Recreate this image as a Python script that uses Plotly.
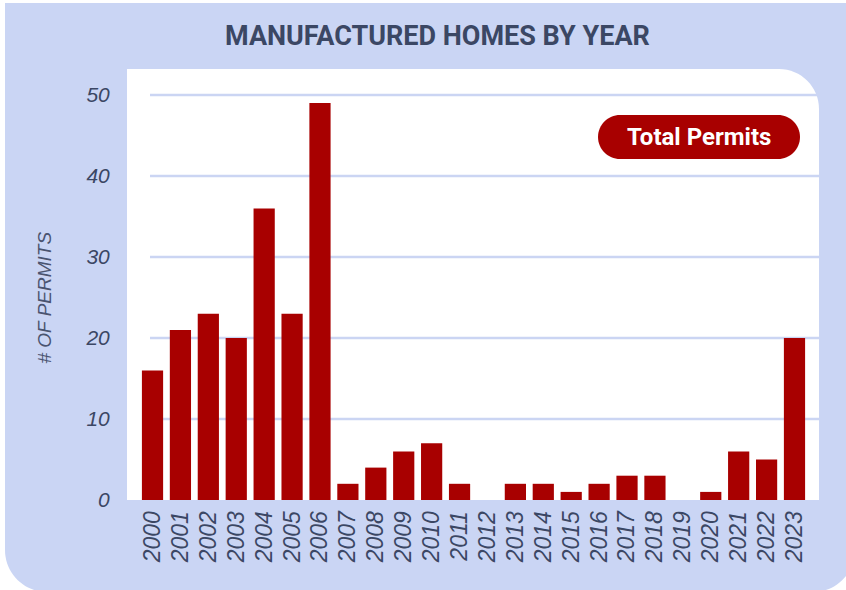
import plotly.graph_objects as go

# Manufactured home permits per year
years = [str(y) for y in range(2000, 2024)]
permits = [16, 21, 23, 20, 36, 23, 49, 2, 4, 6, 7, 2,
           0, 2, 2, 1, 2, 3, 3, 0, 1, 6, 5, 20]
y_ticks = [0, 10, 20, 30, 40, 50]

W, H = 846, 590
L, R, T, B = 127, 819, 69, 500          # plot area in pixels
PX_PER_UNIT = 8.1
BAR_RED = "#A80000"
CARD_BLUE = "#CAD5F4"
INK = "#3B4764"


def fx(px):
    return (px - L) / (R - L)


def fy(py):
    return (B - py) / (B - T)


def rounded_path(x0, y0, x1, y1, r_tl=0, r_tr=0, r_br=0, r_bl=0):
    """SVG path (paper coords) of a rectangle given in pixels with rounded corners."""
    k = 0.5523

    def p(x, y):
        return f"{fx(x):.5f},{fy(y):.5f}"

    d = f"M {p(x0 + r_tl, y0)} L {p(x1 - r_tr, y0)} "
    if r_tr:
        d += f"C {p(x1 - r_tr + k * r_tr, y0)} {p(x1, y0 + r_tr - k * r_tr)} {p(x1, y0 + r_tr)} "
    d += f"L {p(x1, y1 - r_br)} "
    if r_br:
        d += f"C {p(x1, y1 - r_br + k * r_br)} {p(x1 - r_br + k * r_br, y1)} {p(x1 - r_br, y1)} "
    d += f"L {p(x0 + r_bl, y1)} "
    if r_bl:
        d += f"C {p(x0 + r_bl - k * r_bl, y1)} {p(x0, y1 - r_bl + k * r_bl)} {p(x0, y1 - r_bl)} "
    d += f"L {p(x0, y0 + r_tl)} "
    if r_tl:
        d += f"C {p(x0, y0 + r_tl - k * r_tl)} {p(x0 + r_tl - k * r_tl, y0)} {p(x0 + r_tl, y0)} "
    return d + "Z"


fig = go.Figure(
    go.Bar(
        x=years,
        y=permits,
        marker=dict(color=BAR_RED, line=dict(width=0)),
        width=0.76,
        showlegend=False,
        hoverinfo="x+y",
    )
)

shapes = [
    # outer card
    dict(type="path", xref="paper", yref="paper", layer="below",
         path=rounded_path(5, 3, 855, 592, r_br=42, r_bl=42),
         fillcolor=CARD_BLUE, line=dict(width=0)),
    # white chart panel
    dict(type="path", xref="paper", yref="paper", layer="below",
         path=rounded_path(L, T, R, B, r_tr=40),
         fillcolor="white", line=dict(width=0)),
    # legend pill
    dict(type="path", xref="paper", yref="paper", layer="above",
         path=rounded_path(598, 115, 800, 159, 22, 22, 22, 22),
         fillcolor=BAR_RED, line=dict(width=0)),
]
# horizontal gridlines
for v in y_ticks[1:]:
    shapes.append(dict(type="line", xref="paper", yref="y", layer="below",
                       x0=fx(150), x1=fx(R), y0=v, y1=v,
                       line=dict(color="#CBD5F3", width=2.5)))

annotations = [
    dict(text="MANUFACTURED HOMES BY YEAR", xref="paper", yref="paper",
         x=fx(437), y=fy(36), xanchor="center", yanchor="middle", showarrow=False,
         font=dict(family="Roboto", size=27, weight=700, color=INK)),
    dict(text="# OF PERMITS", xref="paper", yref="y",
         x=fx(44), y=25, xanchor="center", yanchor="middle", showarrow=False,
         textangle=-90,
         font=dict(family="Liberation Sans", size=19, style="italic", color="#4A5470")),
    dict(text="Total Permits", xref="paper", yref="paper",
         x=fx(699), y=fy(137), xanchor="center", yanchor="middle", showarrow=False,
         font=dict(family="Roboto", size=24, weight=700, color="white")),
]

cat_lo = -0.914
cat_hi = 23.878

fig.update_layout(
    width=W, height=H,
    margin=dict(l=L, r=W - R, t=T, b=H - B, pad=0),
    paper_bgcolor="white",
    plot_bgcolor="rgba(0,0,0,0)",
    shapes=shapes,
    annotations=annotations,
    bargap=0.24,
    xaxis=dict(
        type="category",
        range=[cat_lo, cat_hi],
        tickmode="array", tickvals=years, ticktext=years,
        showgrid=False, zeroline=False, showline=False,
        tickangle=-90,
        ticks="outside", ticklen=1, tickcolor="rgba(0,0,0,0)",
        tickfont=dict(family="Liberation Sans", size=23, style="italic", color=INK),
    ),
    yaxis=dict(
        range=[0, (B - T) / PX_PER_UNIT],
        tickvals=y_ticks,
        showgrid=False, zeroline=False, showline=False,
        ticks="outside", ticklen=12, tickcolor="rgba(0,0,0,0)",
        tickfont=dict(family="Liberation Sans", size=21, style="italic", color=INK),
    ),
)

fig.write_html("out.html")
